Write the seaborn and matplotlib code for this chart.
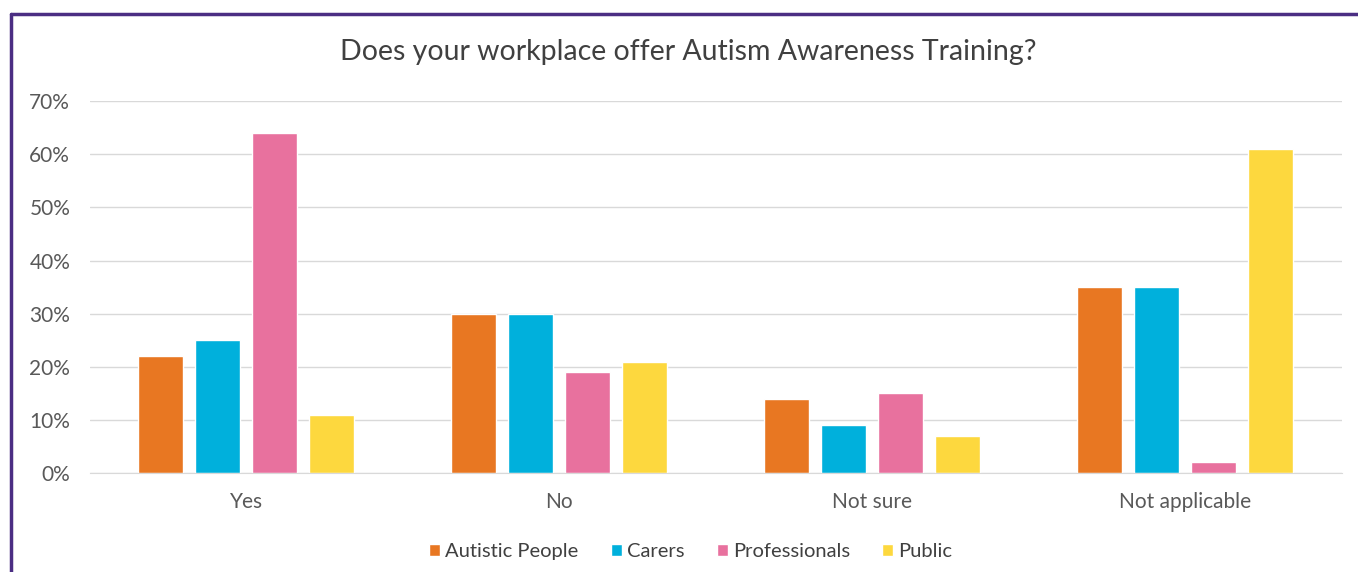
import pandas as pd
import matplotlib
matplotlib.use("Agg")
import matplotlib.pyplot as plt
import seaborn as sns
from matplotlib.lines import Line2D
from matplotlib.ticker import PercentFormatter

# Data
answers = ["Yes", "No", "Not sure", "Not applicable"]
groups = ["Autistic People", "Carers", "Professionals", "Public"]
autistic = [22, 30, 14, 35]
carers = [25, 30, 9, 35]
professionals = [64, 19, 15, 2]
public = [11, 21, 7, 61]

colors = ["#E87722", "#00B0DC", "#E8719E", "#FDD83E"]

rows = []
for g, vals in zip(groups, [autistic, carers, professionals, public]):
    for a, v in zip(answers, vals):
        rows.append({"answer": a, "group": g, "value": v})
df = pd.DataFrame(rows)

sns.set_style("white")
plt.rcParams['font.family'] = ['Lato', 'DejaVu Sans']

fig = plt.figure(figsize=(13.58, 5.72), dpi=100)
ax = fig.add_axes([0.066, 0.173, 0.922, 0.65])

sns.barplot(data=df, x="answer", y="value", hue="group", order=answers,
            hue_order=groups, palette=colors, width=0.727, gap=0.21,
            saturation=1, ax=ax)

ax.set_ylim(0, 70)
ax.set_yticks(range(0, 71, 10))
ax.yaxis.set_major_formatter(PercentFormatter(decimals=0))
ax.grid(axis="y", color="#D9D9D9", linewidth=1)
ax.set_axisbelow(True)
for s in ["top", "right", "left"]:
    ax.spines[s].set_visible(False)
ax.spines["bottom"].set_color("#D9D9D9")
ax.set_xlabel("")
ax.set_ylabel("")
ax.tick_params(axis="both", length=0, labelsize=15, labelcolor="#595959")
ax.tick_params(axis="x", pad=14)
ax.tick_params(axis="y", pad=14)

ax.set_title("Does your workplace offer Autism Awareness Training?",
             fontsize=20.5, color="#404040", pad=30, x=0.478)

ax.legend(loc="upper center", bbox_to_anchor=(0.48, -0.14), ncol=4,
          frameon=False, fontsize=14.5, labelcolor="#404040",
          handlelength=0.55, handleheight=0.55, handletextpad=0.25, columnspacing=1.6)

# purple frame (top and left edges visible)
fig.add_artist(Line2D([0.008, 1.0], [0.975, 0.975], transform=fig.transFigure,
                      color="#4B2E83", linewidth=2.5))
fig.add_artist(Line2D([0.008, 0.008], [0.0, 0.975], transform=fig.transFigure,
                      color="#4B2E83", linewidth=2.5))

fig.savefig("out.png", dpi=100, facecolor="white")
